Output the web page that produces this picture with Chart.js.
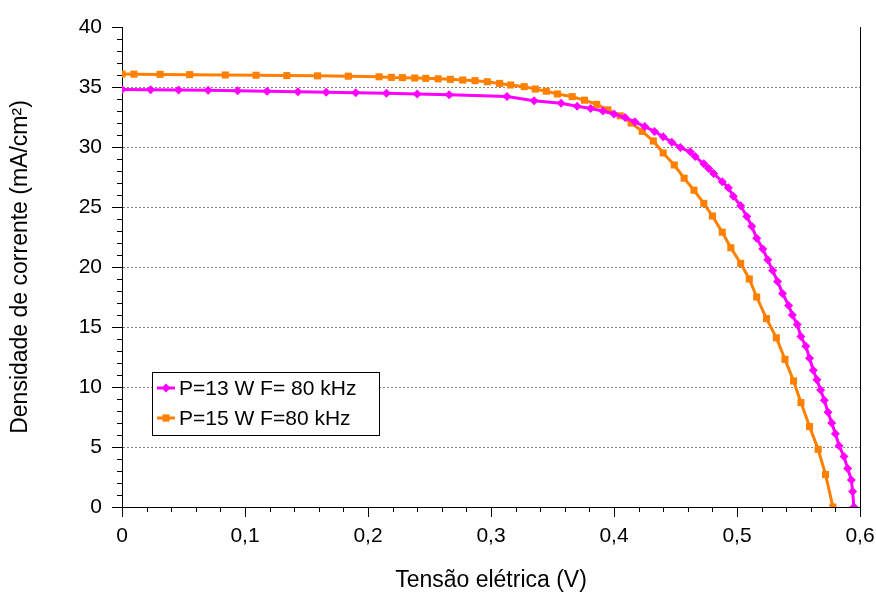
<!DOCTYPE html>
<html>
<head>
<meta charset="utf-8">
<script src="https://cdn.jsdelivr.net/npm/chart.js@4.4.1/dist/chart.umd.min.js"></script>
<style>
    html, body { margin: 0; padding: 0; background: #fff; }
    #wrap { width: 876px; height: 592px; }
</style>
</head>
<body>
<div id="wrap"><canvas id="ivChart" width="876" height="592"></canvas></div>
<script>
// Curvas J-V
const tensaoP13 = [0, 0.0233, 0.046, 0.070, 0.094, 0.118, 0.143, 0.166, 0.190, 0.215,
    0.240, 0.266, 0.313, 0.335, 0.357, 0.370, 0.381, 0.391, 0.400, 0.409,
    0.417, 0.425, 0.433, 0.440, 0.447, 0.454, 0.462, 0.466, 0.473, 0.477,
    0.481, 0.488, 0.493, 0.497, 0.503, 0.508, 0.512, 0.516, 0.521, 0.525,
    0.529, 0.533, 0.537, 0.542, 0.545, 0.549, 0.552, 0.556, 0.559, 0.562,
    0.565, 0.568, 0.571, 0.574, 0.577, 0.580, 0.583, 0.587, 0.590, 0.593,
    0.594, 0.595];
const densidadeP13 = [34.8, 34.78, 34.75, 34.72, 34.68, 34.64, 34.6, 34.57, 34.52, 34.47,
    34.42, 34.36, 34.2, 33.86, 33.64, 33.4, 33.2, 33.0, 32.75, 32.45,
    32.1, 31.7, 31.3, 30.85, 30.4, 29.95, 29.6, 29.2, 28.6, 28.2,
    27.8, 27.1, 26.6, 25.9, 25.1, 24.2, 23.4, 22.4, 21.5, 20.6,
    19.7, 18.8, 17.8, 16.8, 16.0, 15.2, 14.2, 13.4, 12.4, 11.4,
    10.6, 9.75, 8.9, 7.9, 7.0, 6.1, 5.1, 4.2, 3.2, 2.25,
    1.3, 0];

const tensaoP15 = [0, 0.0097, 0.031, 0.055, 0.084, 0.109, 0.134, 0.159, 0.184, 0.209,
    0.219, 0.228, 0.238, 0.247, 0.257, 0.267, 0.277, 0.287, 0.297, 0.307,
    0.316, 0.327, 0.336, 0.345, 0.354, 0.366, 0.376, 0.386, 0.395, 0.405,
    0.414, 0.423, 0.432, 0.440, 0.449, 0.457, 0.465, 0.473, 0.480, 0.488,
    0.495, 0.503, 0.510, 0.516, 0.524, 0.532, 0.539, 0.546, 0.552, 0.559,
    0.566, 0.572, 0.578];
const densidadeP15 = [36.08, 36.07, 36.05, 36.03, 36.0, 35.98, 35.95, 35.93, 35.9, 35.85,
    35.8, 35.78, 35.75, 35.72, 35.68, 35.64, 35.58, 35.53, 35.44, 35.3,
    35.17, 35.03, 34.83, 34.65, 34.42, 34.2, 33.9, 33.55, 33.1, 32.6,
    32.0, 31.3, 30.5, 29.5, 28.5, 27.4, 26.4, 25.3, 24.25, 22.9,
    21.6, 20.3, 19.0, 17.5, 15.7, 14.1, 12.3, 10.5, 8.7, 6.7,
    4.8, 2.7, 0];

const xTicks = [0, 0.1, 0.2, 0.3, 0.4, 0.5, 0.6];
const yTicks = [0, 5, 10, 15, 20, 25, 30, 35, 40];

const labelP13 = 'P=13 W F= 80 kHz';
const labelP15 = 'P=15 W F=80 kHz';

const toPoints = (xs, ys) => xs.map((v, i) => ({ x: v, y: ys[i] }));

Chart.defaults.font.family = '"Liberation Sans", Arial, sans-serif';
Chart.defaults.font.size = 21;
Chart.defaults.color = '#000';

// marcas dos eixos (maiores e menores)
const tickMarks = {
    id: 'tickMarks',
    afterDraw(chart) {
        const { ctx, scales: { x, y } } = chart;
        ctx.save();
        ctx.strokeStyle = '#000';
        ctx.lineWidth = 1;
        ctx.beginPath();
        for (let i = 0; i <= 40; i++) {
            const py = Math.round(y.getPixelForValue(i)) + 0.5;
            const len = i % 5 === 0 ? 10 : 5;
            ctx.moveTo(x.left - len, py);
            ctx.lineTo(x.left, py);
        }
        for (let i = 0; i <= 30; i++) {
            const px = Math.round(x.getPixelForValue(i * 0.02)) + 0.5;
            const len = i % 5 === 0 ? 10 : 5;
            ctx.moveTo(px, y.bottom);
            ctx.lineTo(px, y.bottom + len);
        }
        ctx.stroke();
        ctx.restore();
    }
};

// legenda dentro da área do gráfico
const boxLegend = {
    id: 'boxLegend',
    afterDraw(chart) {
        const { ctx, chartArea } = chart;
        const left = chartArea.left + 30;
        const top = chartArea.top + 345;
        const w = 227, h = 63;
        ctx.save();
        ctx.fillStyle = '#fff';
        ctx.fillRect(left, top, w, h);
        ctx.strokeStyle = '#000';
        ctx.lineWidth = 1;
        ctx.strokeRect(left + 0.5, top + 0.5, w, h);
        chart.data.datasets.forEach((ds, i) => {
            const cy = top + 16 + i * 30;
            const x0 = left + 5, x1 = left + 23, cx = (x0 + x1) / 2;
            ctx.strokeStyle = ds.borderColor;
            ctx.lineWidth = 3;
            ctx.beginPath();
            ctx.moveTo(x0, cy);
            ctx.lineTo(x1, cy);
            ctx.stroke();
            ctx.fillStyle = ds.borderColor;
            const r = 4.5;
            ctx.beginPath();
            if (ds.pointStyle === 'rectRot') {
                ctx.moveTo(cx, cy - r); ctx.lineTo(cx + r, cy);
                ctx.lineTo(cx, cy + r); ctx.lineTo(cx - r, cy);
                ctx.closePath();
            } else {
                ctx.rect(cx - r * 0.8, cy - r * 0.8, r * 1.6, r * 1.6);
            }
            ctx.fill();
            ctx.fillStyle = '#000';
            ctx.font = '21px "Liberation Sans", Arial, sans-serif';
            ctx.textBaseline = 'middle';
            ctx.fillText(ds.label, left + 27, cy + 1);
        });
        ctx.restore();
    }
};

new Chart(document.getElementById('ivChart'), {
    type: 'line',
    data: {
        datasets: [{
            label: labelP13,
            data: toPoints(tensaoP13, densidadeP13),
            borderColor: '#ff00ff',
            backgroundColor: '#ff00ff',
            borderWidth: 3,
            pointStyle: 'rectRot',
            pointRadius: 4.5,
            pointBorderWidth: 0,
            tension: 0
        }, {
            label: labelP15,
            data: toPoints(tensaoP15, densidadeP15),
            borderColor: '#ff8000',
            backgroundColor: '#ff8000',
            borderWidth: 3,
            pointStyle: 'rect',
            pointRadius: 5,
            pointBorderWidth: 0,
            tension: 0
        }]
    },
    options: {
        responsive: false,
        animation: false,
        devicePixelRatio: 1,
        layout: { padding: { top: 27, right: 16, left: 0, bottom: 0 } },
        plugins: {
            legend: { display: false },
            tooltip: { enabled: false }
        },
        scales: {
            x: {
                type: 'linear',
                min: 0,
                max: 0.6,
                afterBuildTicks: s => { s.ticks = xTicks.map(v => ({ value: v })); },
                afterFit: s => { s.height = 85; s.paddingLeft = 0; s.paddingRight = 0; },
                ticks: {
                    padding: 17,
                    callback: v => String(Number(v.toFixed(1))).replace('.', ',')
                },
                grid: {
                    drawTicks: false,
                    color: c => (c.tick && c.tick.value === 0.6) ? '#000' : 'rgba(0,0,0,0)'
                },
                border: { color: '#000', width: 1 },
                title: {
                    display: true,
                    text: 'Tensão elétrica (V)',
                    font: { size: 23, lineHeight: 1 },
                    padding: { top: 0, bottom: 0 }
                }
            },
            y: {
                min: 0,
                max: 40,
                afterBuildTicks: s => { s.ticks = yTicks.map(v => ({ value: v })); },
                afterFit: s => { s.width = 122; s.paddingTop = 0; s.paddingBottom = 0; },
                ticks: { padding: 20 },
                grid: {
                    drawTicks: false,
                    color: c => (c.tick && c.tick.value > 0 && c.tick.value < 40) ? '#808080' : 'rgba(0,0,0,0)'
                },
                border: { color: '#000', width: 1, dash: [2, 2] },
                title: {
                    display: true,
                    text: 'Densidade de corrente (mA/cm²)',
                    font: { size: 23, lineHeight: 1 },
                    padding: { top: 9, bottom: 0 }
                }
            }
        }
    },
    plugins: [tickMarks, boxLegend]
});
</script>
</body>
</html>
